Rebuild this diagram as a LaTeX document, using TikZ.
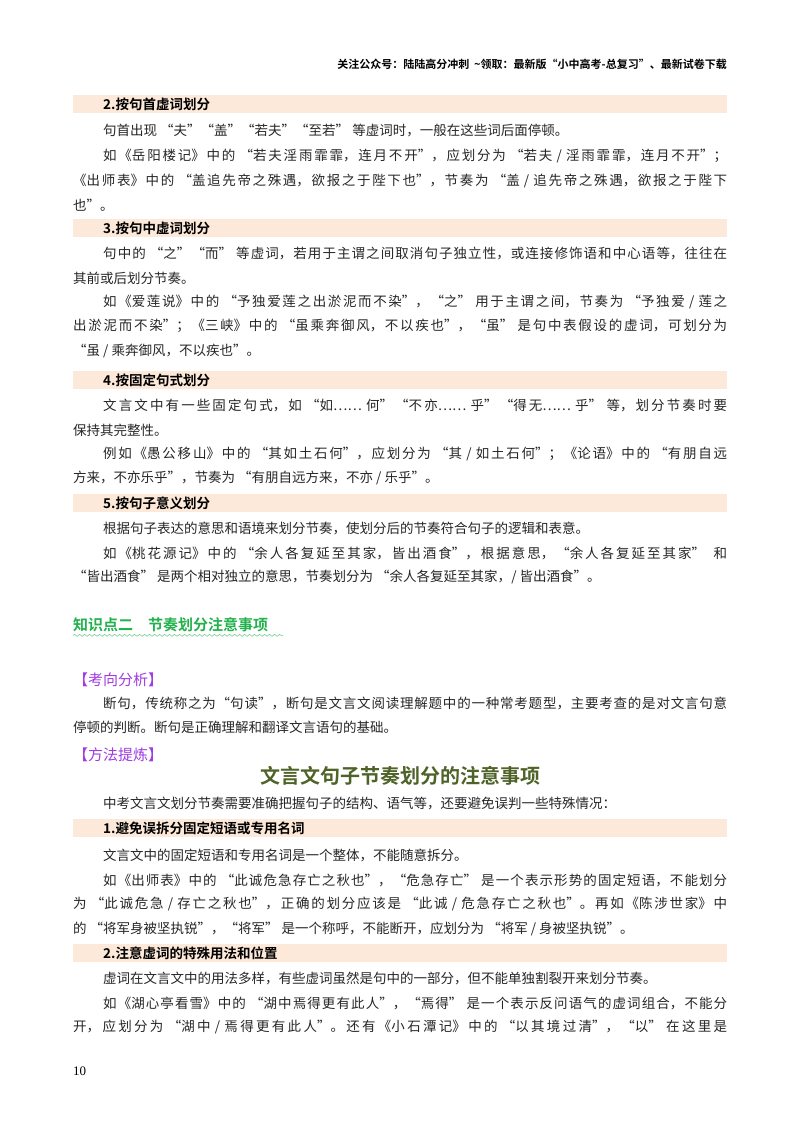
\documentclass[tikz,border=0pt]{standalone}
\usepackage{fontspec}
\setmainfont{Liberation Serif}
\newfontfamily\cjk{Noto Sans CJK SC}
\newfontfamily\cjkb{Noto Sans CJK SC Bold}
\usetikzlibrary{decorations.pathmorphing}
\XeTeXlinebreaklocale "zh"
\XeTeXlinebreakskip=0pt plus 3pt
\definecolor{band}{HTML}{FCE9D9}
\definecolor{kgreen}{HTML}{22B14C}
\definecolor{kpurple}{HTML}{A03CE0}
\definecolor{kolive}{HTML}{4F6228}
\newcommand{\fw}[1]{\parbox{654pt}{\spaceskip=0.3em plus 0.3pt\parfillskip=0pt\parindent=0pt\relax #1}}
\newcommand{\iw}[1]{\parbox{624pt}{\spaceskip=0.3em plus 0.3pt\parfillskip=0pt\parindent=0pt\relax #1}}
\tikzset{
 txt/.style={anchor=west,inner sep=0pt,font=\cjk\fontsize{13.5}{14}\selectfont,text=black!85},
 bandbox/.style={fill=band,draw=none},
 bandtxt/.style={anchor=west,inner sep=0pt,font=\cjkb\fontsize{13.5}{14}\selectfont},
}
\begin{document}
\begin{tikzpicture}[x=1pt,y=-1pt]
\fill[white] (0,0) rectangle (800,1132);
\useasboundingbox (0,0) rectangle (800,1132);
\node[anchor=east,inner sep=0pt,font=\cjkb\fontsize{11}{12}\selectfont] (hdr) at (727,64) {关注公众号：陆陆高分冲刺\ \ \textasciitilde 领取：最新版“小中高考-总复习”、最新试卷下载};
% band 2
\fill[bandbox] (73,95) rectangle (727,113);
\node[bandtxt] (b2) at (103,104) {2.按句首虚词划分};
\node[txt] (l1) at (103,131) {句首出现 “夫”“盖”“若夫”“至若” 等虚词时，一般在这些词后面停顿。};
\node[txt] (l2) at (103,156) {\iw{如《岳阳楼记》中的 “若夫淫雨霏霏，连月不开”，应划分为 “若夫 / 淫雨霏霏，连月不开”；}};
\node[txt] (l3) at (73,181) {\fw{《出师表》中的 “盖追先帝之殊遇，欲报之于陛下也”，节奏为 “盖 / 追先帝之殊遇，欲报之于陛下}};
\node[txt] (l4) at (73,205) {也”。};
% band 3
\fill[bandbox] (73,219) rectangle (727,237);
\node[bandtxt] (b3) at (103,228) {3.按句中虚词划分};
\node[txt] (l5) at (103,254) {\iw{句中的 “之”“而” 等虚词，若用于主谓之间取消句子独立性，或连接修饰语和中心语等，往往在}};
\node[txt] (l6) at (73,278) {其前或后划分节奏。};
\node[txt] (l7) at (103,302) {\iw{如《爱莲说》中的 “予独爱莲之出淤泥而不染”，“之” 用于主谓之间，节奏为 “予独爱 / 莲之}};
\node[txt] (l8) at (73,326) {\fw{出淤泥而不染”；《三峡》中的 “虽乘奔御风，不以疾也”，“虽” 是句中表假设的虚词，可划分为}};
\node[txt] (l9) at (73,351) {“虽 / 乘奔御风，不以疾也”。};
% band 4
\fill[bandbox] (73,371) rectangle (727,389);
\node[bandtxt] (b4) at (103,380) {4.按固定句式划分};
\node[txt] (l10) at (103,405) {\iw{文言文中有一些固定句式，如 “如…… 何”“不亦…… 乎”“得无…… 乎” 等，划分节奏时要}};
\node[txt] (l11) at (73,430) {保持其完整性。};
\node[txt] (l12) at (103,454) {\iw{例如《愚公移山》中的 “其如土石何”，应划分为 “其 / 如土石何”；《论语》中的 “有朋自远}};
\node[txt] (l13) at (73,478) {方来，不亦乐乎”，节奏为 “有朋自远方来，不亦 / 乐乎”。};
% band 5
\fill[bandbox] (73,494) rectangle (727,512);
\node[bandtxt] (b5) at (103,503) {5.按句子意义划分};
\node[txt] (l14) at (103,528) {根据句子表达的意思和语境来划分节奏，使划分后的节奏符合句子的逻辑和表意。};
\node[txt] (l15) at (103,553) {\iw{如《桃花源记》中的 “余人各复延至其家，皆出酒食”，根据意思，“余人各复延至其家” \ 和}};
\node[txt] (l16) at (73,577) {“皆出酒食” 是两个相对独立的意思，节奏划分为 “余人各复延至其家，/ 皆出酒食”。};
% knowledge point
\node[anchor=west,inner sep=0pt,font=\cjkb\fontsize{15}{16}\selectfont,text=kgreen] (kp) at (73,625) {知识点二\quad 节奏划分注意事项};
\draw[kgreen!70,line width=0.5pt,decorate,decoration={snake,amplitude=1pt,segment length=5pt}] (kp.south west)++(0,3) -- ++(210,0);
\node[anchor=west,inner sep=0pt,font=\cjk\fontsize{15}{16}\selectfont,text=kpurple] (kx) at (73,680) {【考向分析】};
\node[txt] (l17) at (103,703) {\iw{断句，传统称之为“句读”，断句是文言文阅读理解题中的一种常考题型，主要考查的是对文言句意}};
\node[txt] (l18) at (73,727) {停顿的判断。断句是正确理解和翻译文言语句的基础。};
\node[anchor=west,inner sep=0pt,font=\cjk\fontsize{15}{16}\selectfont,text=kpurple] (ff) at (73,755) {【方法提炼】};
\node[inner sep=0pt,font=\cjkb\fontsize{20}{21}\selectfont,text=kolive] (title) at (400,776) {文言文句子节奏划分的注意事项};
\node[txt] (l19) at (103,803) {中考文言文划分节奏需要准确把握句子的结构、语气等，还要避免误判一些特殊情况：};
% band 1b
\fill[bandbox] (73,819) rectangle (727,837);
\node[bandtxt] (c1) at (103,828) {1.避免误拆分固定短语或专用名词};
\node[txt] (l20) at (103,855) {文言文中的固定短语和专用名词是一个整体，不能随意拆分。};
\node[txt] (l21) at (103,880) {\iw{如《出师表》中的 “此诚危急存亡之秋也”，“危急存亡” 是一个表示形势的固定短语，不能划分}};
\node[txt] (l22) at (73,904) {\fw{为 “此诚危急 / 存亡之秋也”，正确的划分应该是 “此诚 / 危急存亡之秋也”。再如《陈涉世家》中}};
\node[txt] (l23) at (73,929) {的 “将军身被坚执锐”，“将军” 是一个称呼，不能断开，应划分为 “将军 / 身被坚执锐”。};
% band 2b
\fill[bandbox] (73,944) rectangle (727,962);
\node[bandtxt] (c2) at (103,953) {2.注意虚词的特殊用法和位置};
\node[txt] (l24) at (103,978) {虚词在文言文中的用法多样，有些虚词虽然是句中的一部分，但不能单独割裂开来划分节奏。};
\node[txt] (l25) at (103,1003) {\iw{如《湖心亭看雪》中的 “湖中焉得更有此人”，“焉得” 是一个表示反问语气的虚词组合，不能分}};
\node[txt] (l26) at (73,1027) {\fw{开，应划分为 “湖中 / 焉得更有此人”。还有《小石潭记》中的 “以其境过清”，“以” 在这里是}};
\node[anchor=west,inner sep=0pt,font=\fontsize{13}{14}\selectfont] (pg) at (73,1071) {10};
\end{tikzpicture}
\end{document}
